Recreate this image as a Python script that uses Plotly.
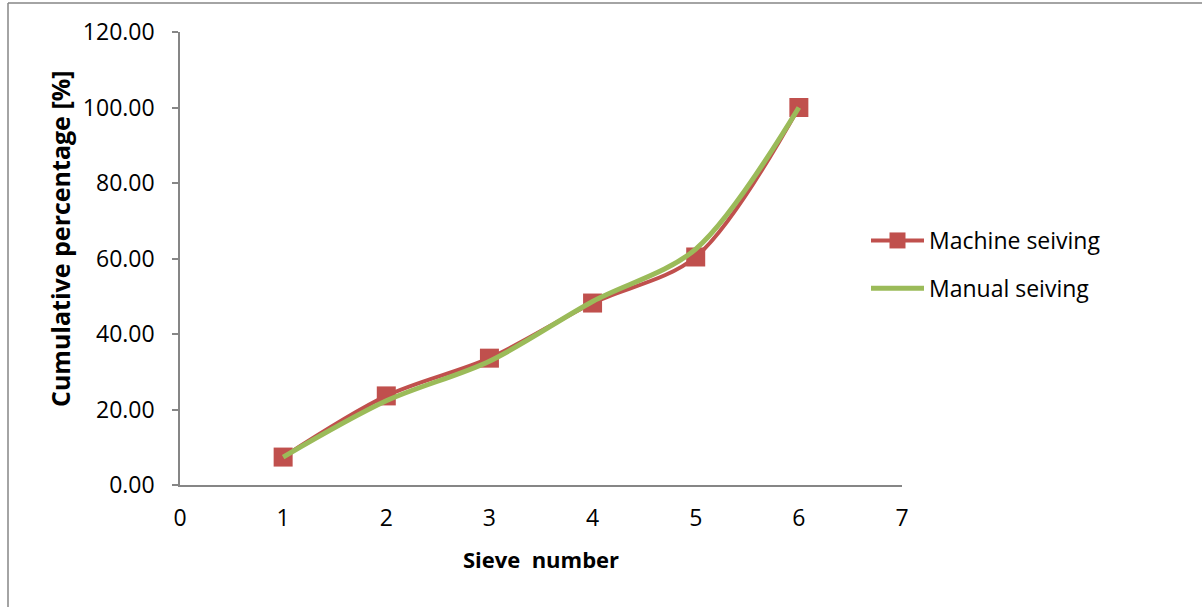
import plotly.graph_objects as go

sieve_number = [1, 2, 3, 4, 5, 6]
machine_seiving = [7.4, 23.6, 33.6, 48.2, 60.4, 100.0]
manual_seiving = [7.4, 22.3, 32.8, 48.6, 62.5, 100.0]
x_ticks = [0, 1, 2, 3, 4, 5, 6, 7]
y_ticks = [0, 20, 40, 60, 80, 100, 120]

FONT = "Open Sans"
AXIS_COLOR = "#868686"

fig = go.Figure()
fig.add_trace(go.Scatter(
    x=sieve_number, y=machine_seiving, name="Machine seiving",
    mode="lines+markers", line=dict(color="#C0504D", width=4, shape="spline", smoothing=0.9),
    marker=dict(symbol="square", size=19, color="#C0504D"),
    legendgroup="a",
))
fig.add_trace(go.Scatter(
    x=sieve_number, y=manual_seiving, name="Manual seiving",
    mode="lines", line=dict(color="#9BBB59", width=5, shape="spline", smoothing=0.9),
    legendgroup="b",
))

L, R, T, B = 180, 1202 - 902, 32, 607 - 485
W, H = 1202 - L - R, 607 - T - B

fig.update_layout(
    width=1202, height=607,
    margin=dict(l=L, r=R, t=T, b=B),
    paper_bgcolor="white", plot_bgcolor="white",
    font=dict(family=FONT, size=23, color="black"),
    showlegend=True,
    legend=dict(x=(866 - L) / W, xanchor="left", y=(485 - 219) / H, yanchor="top",
                traceorder="grouped", tracegroupgap=15, itemwidth=53,
                font=dict(size=23, family=FONT), bgcolor="rgba(0,0,0,0)"),
    xaxis=dict(range=[0, 7], tickvals=x_ticks, ticktext=[str(v) for v in x_ticks],
               showgrid=False, zeroline=False, showline=True, linecolor=AXIS_COLOR, linewidth=1.5,
               ticks="", ticklabelstandoff=12,
               title=dict(text="<b>Sieve&nbsp; number</b>", font=dict(size=22, family=FONT), standoff=20)),
    yaxis=dict(range=[0, 120], tickvals=y_ticks, ticktext=[f"{v:.2f}" for v in y_ticks],
               showgrid=False, zeroline=False, showline=True, linecolor=AXIS_COLOR, linewidth=1.5,
               ticks="outside", ticklen=6, tickcolor=AXIS_COLOR, tickwidth=1.5, ticklabelstandoff=13),
)

fig.add_annotation(text="<b>Cumulative percentage [%]</b>", textangle=-90,
                   xref="paper", yref="paper", x=(60 - L) / W, y=(485 - 239) / H,
                   xanchor="center", yanchor="middle", showarrow=False,
                   font=dict(size=25, family=FONT, color="black"))

# outer chart border (left and top edges visible)
x_left = (8 - L) / W
y_top = (485 - 3) / H
x_right = (1202 - L) / W
y_bottom = (485 - 607) / H
fig.add_shape(type="line", xref="paper", yref="paper", x0=x_left, x1=x_right, y0=y_top, y1=y_top,
              line=dict(color="#868686", width=1.5))
fig.add_shape(type="line", xref="paper", yref="paper", x0=x_left, x1=x_left, y0=y_bottom, y1=y_top,
              line=dict(color="#868686", width=1.5))

fig.write_html("out.html", config={"displayModeBar": False},
               post_script="document.body.style.margin='0';document.body.style.overflow='hidden';")
